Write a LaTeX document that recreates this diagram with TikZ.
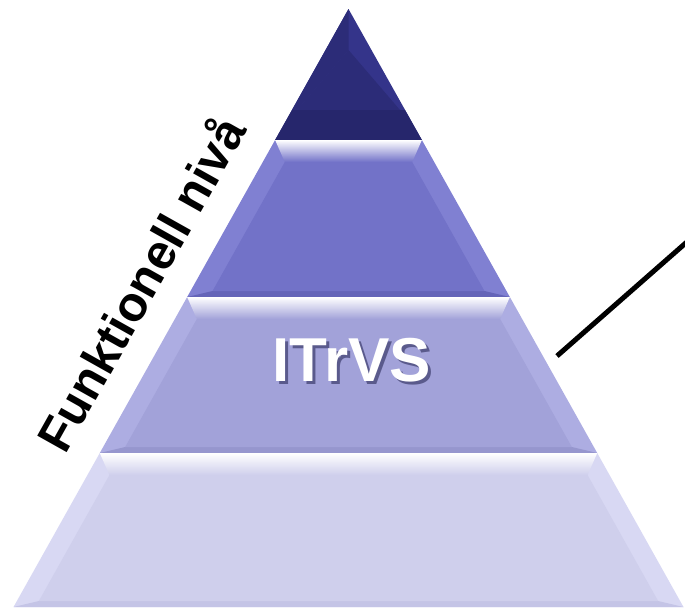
\documentclass[tikz,border=0pt]{standalone}
\usepackage{fontspec}
\setmainfont{Liberation Sans}
\definecolor{topc}{HTML}{2C2C78}
\definecolor{topl}{HTML}{34348A}
\definecolor{topd}{HTML}{26266C}
\definecolor{bAc}{HTML}{7272C8}
\definecolor{bAl}{HTML}{8080D2}
\definecolor{bAd}{HTML}{6464B8}
\definecolor{bBc}{HTML}{A2A2D9}
\definecolor{bBl}{HTML}{ADADE2}
\definecolor{bBd}{HTML}{9696CE}
\definecolor{bCc}{HTML}{CFCFEC}
\definecolor{bCl}{HTML}{D8D8F3}
\definecolor{bCd}{HTML}{C4C4E6}
\definecolor{shadowc}{HTML}{5A5A8C}
\tikzset{
  lbl/.style={font=\bfseries\fontsize{49}{51}\selectfont, text=black, inner sep=0pt},
  ttl/.style={font=\bfseries\fontsize{62}{64}\selectfont, text=white, inner sep=0pt},
  link/.style={line width=5pt, black}
}
% #1 yt, #2 yb, #3 base, #4 light, #5 dark
\newcommand\pband[5]{%
  \pgfmathsetmacro\ylt{#1}\pgfmathsetmacro\ylb{#2}%
  \pgfmathsetmacro\yit{#1+22}\pgfmathsetmacro\yib{#2-6}%
  \pgfmathsetmacro\wot{0.5602*(#1-9)}\pgfmathsetmacro\wob{0.5602*(#2-9)}%
  \pgfmathsetmacro\wit{0.5602*(#1+22-9)-22}\pgfmathsetmacro\wib{0.5602*(#2-6-9)-22}%
  \fill[#4] (348.5-\wot,\ylt) -- (348.5+\wot,\ylt) -- (348.5+\wob,\ylb) -- (348.5-\wob,\ylb) -- cycle;
  \shade[top color=white, middle color=white!55!#3, bottom color=#3] (348.5-\wot,\ylt) -- (348.5+\wot,\ylt) -- (348.5+\wit,\yit) -- (348.5-\wit,\yit) -- cycle;
  \fill[#5] (348.5-\wib,\yib) -- (348.5+\wib,\yib) -- (348.5+\wob,\ylb) -- (348.5-\wob,\ylb) -- cycle;
  \fill[#3] (348.5-\wit,\yit) -- (348.5+\wit,\yit) -- (348.5+\wib,\yib) -- (348.5-\wib,\yib) -- cycle;
}
\begin{document}
\begin{tikzpicture}[x=1pt,y=-1pt]
\useasboundingbox (0,0) rectangle (685,611);
% top triangle
\fill[topl] (348.5,9) -- (421.9,140) -- (275.1,140) -- cycle;
\fill[topc] (348.5,50) -- (400,110) -- (297,110) -- cycle;
\fill[topc] (348.5,9) -- (348.5,50) -- (297,110) -- (292,110) -- cycle;
\fill[topd] (292,110) -- (405,110) -- (421.9,140) -- (275.1,140) -- cycle;
% bands
\pband{140}{297}{bAc}{bAl}{bAd}
\pband{297}{453}{bBc}{bBl}{bBd}
\pband{453}{607}{bCc}{bCl}{bCd}
% labels
\node[ttl] (title) at (352,362) {\rlap{\kern3pt\raisebox{-3pt}{\color{shadowc}ITrVS}}ITrVS};
\node[lbl, rotate=60.7] (level) at (139,283) {Funktionell nivå};
% connector
\coordinate (ls) at (557,356);
\coordinate (le) at (688,241);
\draw[link] (ls) -- (le);
\end{tikzpicture}
\end{document}
